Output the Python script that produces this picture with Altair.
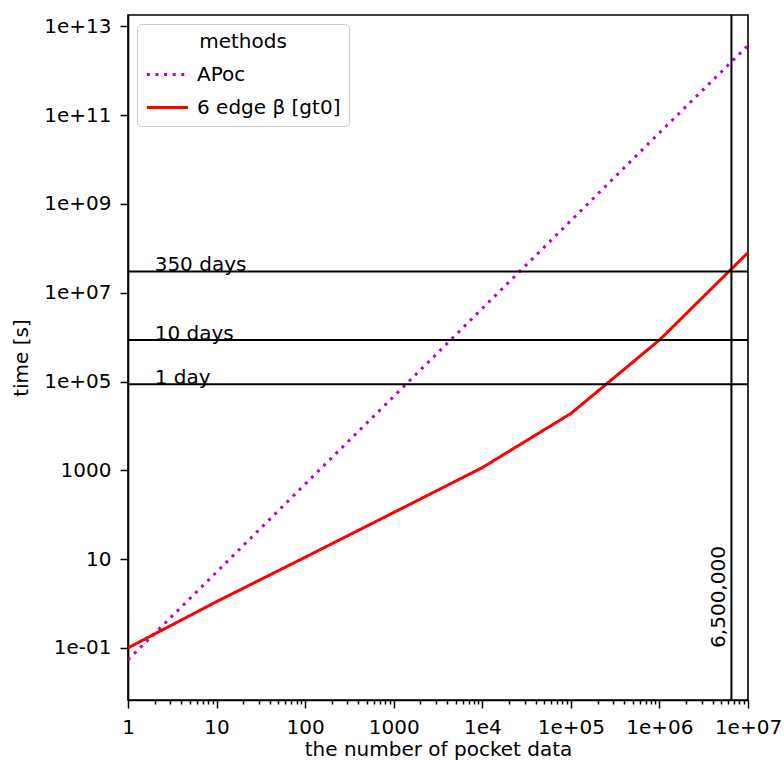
import altair as alt
import pandas as pd

# ---- data ----
n_points = [1, 10, 100, 1000, 1e4, 1e5, 1e6, 1e7]
apoc_times = [0.054, 5.1, 490, 4.6e4, 4.4e6, 4.2e8, 4.0e10, 3.7e12]
edge6_times = [0.1, 1.1, 11, 112, 1150, 1.9e4, 8.6e5, 8.0e7]
series_names = ["APoc", "6 edge β [gt0]"]
series_colors = ["#bf00bf", "#ff0000"]
series_dashes = [[3, 5.6], [1, 0]]

ref_labels = ["350 days", "10 days", "1 day"]
ref_seconds = [30240000, 864000, 86400]
ref_label_x = 2
vline_x = 6500000
vline_label = "6,500,000"
vline_label_y = 0.1

x_decades = [1, 10, 100, 1000, 1e4, 1e5, 1e6, 1e7]
x_tick_labels = ["1", "10", "100", "1000", "1e4", "1e+05", "1e+06", "1e+07"]
y_tick_values = [0.1, 10, 1e3, 1e5, 1e7, 1e9, 1e11, 1e13]
y_tick_labels = ["1e-01", "10", "1000", "1e+05", "1e+07", "1e+09", "1e+11", "1e+13"]
x_domain = [1, 1e7]
y_domain = [6.7e-3, 1.8e13]

FONT = "DejaVu Sans"
FS = 20

# minor tick positions (1..9 x each decade)
x_tick_values = []
for d in x_decades:
    for m in range(1, 10):
        v = d * m
        if v <= x_domain[1]:
            x_tick_values.append(v)

lines_df = pd.DataFrame(
    {
        "n": n_points * 2,
        "time": apoc_times + edge6_times,
        "method": [series_names[0]] * len(n_points) + [series_names[1]] * len(n_points),
    }
)
refs_df = pd.DataFrame({"label": ref_labels, "seconds": ref_seconds, "x": [ref_label_x] * len(ref_labels)})
vline_df = pd.DataFrame({"x": [vline_x], "y": [vline_label_y], "label": [vline_label]})


def js_arr(lst):
    return "[" + ",".join("'" + s + "'" for s in lst) + "]"


lg = "(log(datum.value)/LN10)"
x_label_expr = f"abs({lg} - round({lg})) < 1e-6 ? {js_arr(x_tick_labels)}[round({lg})] : ''"
y_label_expr = f"{js_arr(y_tick_labels)}[round(({lg} + 1)/2)]"
major_test = f"abs({lg} - round({lg})) < 1e-6"

x_scale = alt.Scale(type="log", domain=x_domain, nice=False)
y_scale = alt.Scale(type="log", domain=y_domain, nice=False)

x_axis = alt.Axis(
    values=x_tick_values,
    labelExpr=x_label_expr,
    labelOverlap=False,
    labelFlush=False,
    labelBound=False,
    tickSize={"condition": {"test": major_test, "value": 8}, "value": 4},
    title="the number of pocket data",
    grid=False,
)
y_axis = alt.Axis(
    values=y_tick_values,
    labelExpr=y_label_expr,
    labelOverlap=False,
    labelFlush=False,
    tickSize=8,
    title="time [s]",
    grid=False,
)

lines = (
    alt.Chart(lines_df)
    .mark_line(strokeWidth=3, clip=True)
    .encode(
        x=alt.X("n:Q", scale=x_scale, axis=x_axis),
        y=alt.Y("time:Q", scale=y_scale, axis=y_axis),
        color=alt.Color(
            "method:N",
            scale=alt.Scale(domain=series_names, range=series_colors),
            sort=series_names,
            title="methods",
            legend=alt.Legend(
                orient="top-left",
                offset=9,
                titleAnchor="middle",
                titleFontWeight="normal",
                titleFontSize=FS,
                titleFont=FONT,
                titleColor="black",
                titlePadding=0,
                labelFontSize=FS,
                labelFont=FONT,
                labelColor="black",
                labelOffset=7,
                symbolType="stroke",
                symbolSize=1700,
                symbolStrokeWidth=3,
                strokeColor="#cccccc",
                fillColor="white",
                cornerRadius=4,
                padding=8,
                rowPadding=-8,
            ),
        ),
        strokeDash=alt.StrokeDash(
            "method:N",
            scale=alt.Scale(domain=series_names, range=series_dashes),
            sort=series_names,
            title="methods",
        ),
    )
)

hrules = alt.Chart(refs_df).mark_rule(color="black", strokeWidth=2, clip=True).encode(
    y=alt.Y("seconds:Q", scale=y_scale)
)
hlabels = alt.Chart(refs_df).mark_text(
    align="left", baseline="alphabetic", fontSize=FS, font=FONT, color="black", clip=True
).encode(
    x=alt.X("x:Q", scale=x_scale),
    y=alt.Y("seconds:Q", scale=y_scale),
    text="label:N",
)
vrule = alt.Chart(vline_df).mark_rule(color="black", strokeWidth=2, clip=True).encode(
    x=alt.X("x:Q", scale=x_scale)
)
vlabel = alt.Chart(vline_df).mark_text(
    angle=270, align="left", baseline="bottom", fontSize=FS, font=FONT, color="black", dy=-2
).encode(
    x=alt.X("x:Q", scale=x_scale),
    y=alt.Y("y:Q", scale=y_scale),
    text="label:N",
)

chart = (
    alt.layer(lines, hrules, hlabels, vrule, vlabel)
    .properties(
        width=620,
        height=685,
        autosize=alt.AutoSizeParams(type="none"),
        padding={"left": 128, "top": 15, "right": 36, "bottom": 60},
        background="white",
    )
    .configure_view(stroke="black", strokeWidth=1.6)
    .configure_axis(
        domainColor="black",
        domainWidth=1.6,
        tickColor="black",
        tickWidth=1.5,
        labelFont=FONT,
        labelFontSize=FS,
        labelColor="black",
        labelPadding=9,
        titleFont=FONT,
        titleFontSize=FS,
        titleFontWeight="normal",
        titleColor="black",
    )
    .configure_axisX(titlePadding=2)
    .configure_axisY(titlePadding=12)
)

chart.save("out.html", embed_options={"renderer": "svg", "actions": False})
